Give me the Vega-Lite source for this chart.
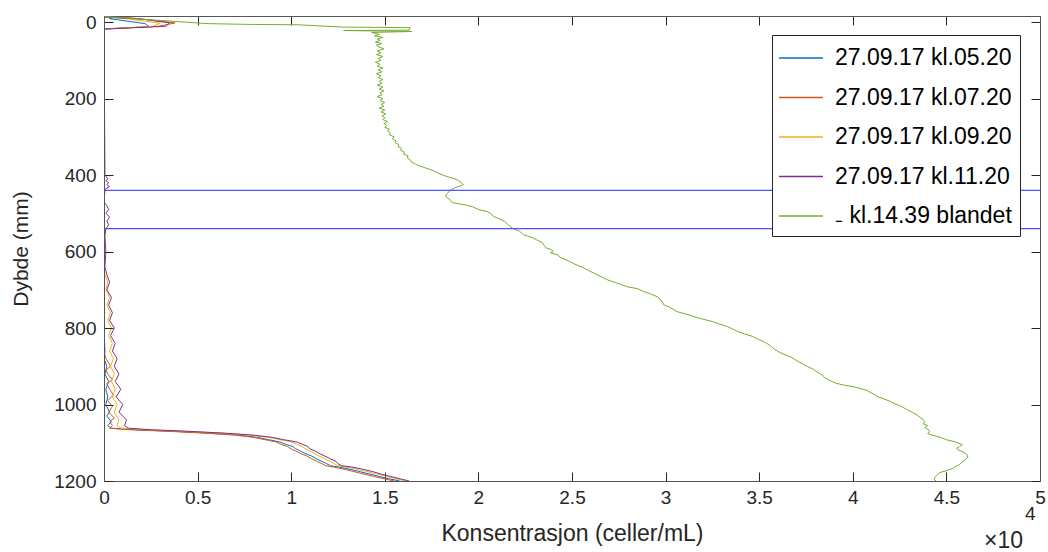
{
"$schema":"https://vega.github.io/schema/vega-lite/v6.json",
"width":936,"height":465,
"autosize":{"type":"none"},
"padding":{"left":104,"top":16,"right":8,"bottom":71},
"background":"white",
"config":{"view":{"stroke":null},"font":"Liberation Sans"},
"datasets":{
"profiles":[
{"s":"27.09.17 kl.05.20","d":-15,"v":0},{"s":"27.09.17 kl.05.20","d":-13,"v":600},{"s":"27.09.17 kl.05.20","d":-9,"v":300},{"s":"27.09.17 kl.05.20","d":4,"v":2200},{"s":"27.09.17 kl.05.20","d":12,"v":2400},{"s":"27.09.17 kl.05.20","d":18,"v":50},{"s":"27.09.17 kl.05.20","d":25,"v":0},{"s":"27.09.17 kl.05.20","d":400,"v":0},{"s":"27.09.17 kl.05.20","d":800,"v":0},{"s":"27.09.17 kl.05.20","d":860,"v":50},{"s":"27.09.17 kl.05.20","d":880,"v":0},{"s":"27.09.17 kl.05.20","d":900,"v":150},{"s":"27.09.17 kl.05.20","d":920,"v":50},{"s":"27.09.17 kl.05.20","d":940,"v":250},{"s":"27.09.17 kl.05.20","d":960,"v":100},{"s":"27.09.17 kl.05.20","d":980,"v":200},{"s":"27.09.17 kl.05.20","d":1000,"v":100},{"s":"27.09.17 kl.05.20","d":1020,"v":300},{"s":"27.09.17 kl.05.20","d":1030,"v":150},{"s":"27.09.17 kl.05.20","d":1045,"v":400},{"s":"27.09.17 kl.05.20","d":1055,"v":200},{"s":"27.09.17 kl.05.20","d":1062,"v":400},{"s":"27.09.17 kl.05.20","d":1066,"v":1700},{"s":"27.09.17 kl.05.20","d":1070,"v":3700},{"s":"27.09.17 kl.05.20","d":1075,"v":5700},{"s":"27.09.17 kl.05.20","d":1080,"v":7200},{"s":"27.09.17 kl.05.20","d":1086,"v":8200},{"s":"27.09.17 kl.05.20","d":1092,"v":8800},{"s":"27.09.17 kl.05.20","d":1098,"v":9400},{"s":"27.09.17 kl.05.20","d":1104,"v":9700},{"s":"27.09.17 kl.05.20","d":1110,"v":10100},{"s":"27.09.17 kl.05.20","d":1116,"v":10250},{"s":"27.09.17 kl.05.20","d":1122,"v":10500},{"s":"27.09.17 kl.05.20","d":1128,"v":10750},{"s":"27.09.17 kl.05.20","d":1135,"v":11100},{"s":"27.09.17 kl.05.20","d":1142,"v":11350},{"s":"27.09.17 kl.05.20","d":1149,"v":11650},{"s":"27.09.17 kl.05.20","d":1155,"v":11900},{"s":"27.09.17 kl.05.20","d":1160,"v":12100},{"s":"27.09.17 kl.05.20","d":1164,"v":12600},{"s":"27.09.17 kl.05.20","d":1170,"v":13200},{"s":"27.09.17 kl.05.20","d":1176,"v":13700},{"s":"27.09.17 kl.05.20","d":1182,"v":14200},{"s":"27.09.17 kl.05.20","d":1188,"v":14700},{"s":"27.09.17 kl.05.20","d":1194,"v":15200},{"s":"27.09.17 kl.05.20","d":1200,"v":15800},
{"s":"27.09.17 kl.07.20","d":-14,"v":0},{"s":"27.09.17 kl.07.20","d":-11,"v":1500},{"s":"27.09.17 kl.07.20","d":2,"v":3800},{"s":"27.09.17 kl.07.20","d":11,"v":2900},{"s":"27.09.17 kl.07.20","d":18,"v":0},{"s":"27.09.17 kl.07.20","d":400,"v":0},{"s":"27.09.17 kl.07.20","d":860,"v":0},{"s":"27.09.17 kl.07.20","d":880,"v":100},{"s":"27.09.17 kl.07.20","d":900,"v":350},{"s":"27.09.17 kl.07.20","d":910,"v":100},{"s":"27.09.17 kl.07.20","d":920,"v":200},{"s":"27.09.17 kl.07.20","d":935,"v":450},{"s":"27.09.17 kl.07.20","d":945,"v":150},{"s":"27.09.17 kl.07.20","d":960,"v":300},{"s":"27.09.17 kl.07.20","d":975,"v":500},{"s":"27.09.17 kl.07.20","d":990,"v":200},{"s":"27.09.17 kl.07.20","d":1005,"v":450},{"s":"27.09.17 kl.07.20","d":1020,"v":250},{"s":"27.09.17 kl.07.20","d":1035,"v":550},{"s":"27.09.17 kl.07.20","d":1045,"v":300},{"s":"27.09.17 kl.07.20","d":1055,"v":450},{"s":"27.09.17 kl.07.20","d":1062,"v":300},{"s":"27.09.17 kl.07.20","d":1066,"v":1400},{"s":"27.09.17 kl.07.20","d":1070,"v":3400},{"s":"27.09.17 kl.07.20","d":1075,"v":5400},{"s":"27.09.17 kl.07.20","d":1080,"v":7000},{"s":"27.09.17 kl.07.20","d":1086,"v":8000},{"s":"27.09.17 kl.07.20","d":1092,"v":8600},{"s":"27.09.17 kl.07.20","d":1098,"v":9200},{"s":"27.09.17 kl.07.20","d":1104,"v":9450},{"s":"27.09.17 kl.07.20","d":1110,"v":9800},{"s":"27.09.17 kl.07.20","d":1116,"v":10000},{"s":"27.09.17 kl.07.20","d":1122,"v":10250},{"s":"27.09.17 kl.07.20","d":1128,"v":10500},{"s":"27.09.17 kl.07.20","d":1135,"v":10850},{"s":"27.09.17 kl.07.20","d":1142,"v":11100},{"s":"27.09.17 kl.07.20","d":1149,"v":11400},{"s":"27.09.17 kl.07.20","d":1155,"v":11650},{"s":"27.09.17 kl.07.20","d":1160,"v":11850},{"s":"27.09.17 kl.07.20","d":1164,"v":12300},{"s":"27.09.17 kl.07.20","d":1170,"v":12900},{"s":"27.09.17 kl.07.20","d":1176,"v":13400},{"s":"27.09.17 kl.07.20","d":1182,"v":13900},{"s":"27.09.17 kl.07.20","d":1188,"v":14400},{"s":"27.09.17 kl.07.20","d":1194,"v":14950},{"s":"27.09.17 kl.07.20","d":1200,"v":15500},
{"s":"27.09.17 kl.09.20","d":-14,"v":0},{"s":"27.09.17 kl.09.20","d":-10,"v":1000},{"s":"27.09.17 kl.09.20","d":3,"v":3000},{"s":"27.09.17 kl.09.20","d":11,"v":2600},{"s":"27.09.17 kl.09.20","d":18,"v":0},{"s":"27.09.17 kl.09.20","d":400,"v":0},{"s":"27.09.17 kl.09.20","d":640,"v":0},{"s":"27.09.17 kl.09.20","d":660,"v":50},{"s":"27.09.17 kl.09.20","d":680,"v":200},{"s":"27.09.17 kl.09.20","d":700,"v":100},{"s":"27.09.17 kl.09.20","d":720,"v":300},{"s":"27.09.17 kl.09.20","d":740,"v":150},{"s":"27.09.17 kl.09.20","d":760,"v":350},{"s":"27.09.17 kl.09.20","d":780,"v":200},{"s":"27.09.17 kl.09.20","d":800,"v":400},{"s":"27.09.17 kl.09.20","d":820,"v":250},{"s":"27.09.17 kl.09.20","d":840,"v":450},{"s":"27.09.17 kl.09.20","d":860,"v":300},{"s":"27.09.17 kl.09.20","d":880,"v":500},{"s":"27.09.17 kl.09.20","d":900,"v":350},{"s":"27.09.17 kl.09.20","d":920,"v":550},{"s":"27.09.17 kl.09.20","d":940,"v":400},{"s":"27.09.17 kl.09.20","d":960,"v":600},{"s":"27.09.17 kl.09.20","d":980,"v":450},{"s":"27.09.17 kl.09.20","d":1000,"v":700},{"s":"27.09.17 kl.09.20","d":1020,"v":550},{"s":"27.09.17 kl.09.20","d":1040,"v":800},{"s":"27.09.17 kl.09.20","d":1055,"v":700},{"s":"27.09.17 kl.09.20","d":1062,"v":900},{"s":"27.09.17 kl.09.20","d":1066,"v":2300},{"s":"27.09.17 kl.09.20","d":1070,"v":4300},{"s":"27.09.17 kl.09.20","d":1075,"v":6300},{"s":"27.09.17 kl.09.20","d":1080,"v":7800},{"s":"27.09.17 kl.09.20","d":1086,"v":8800},{"s":"27.09.17 kl.09.20","d":1092,"v":9400},{"s":"27.09.17 kl.09.20","d":1098,"v":10000},{"s":"27.09.17 kl.09.20","d":1104,"v":10300},{"s":"27.09.17 kl.09.20","d":1110,"v":10600},{"s":"27.09.17 kl.09.20","d":1116,"v":10750},{"s":"27.09.17 kl.09.20","d":1122,"v":11000},{"s":"27.09.17 kl.09.20","d":1128,"v":11250},{"s":"27.09.17 kl.09.20","d":1135,"v":11500},{"s":"27.09.17 kl.09.20","d":1142,"v":11800},{"s":"27.09.17 kl.09.20","d":1149,"v":12100},{"s":"27.09.17 kl.09.20","d":1155,"v":12300},{"s":"27.09.17 kl.09.20","d":1160,"v":12500},{"s":"27.09.17 kl.09.20","d":1164,"v":13000},{"s":"27.09.17 kl.09.20","d":1170,"v":13600},{"s":"27.09.17 kl.09.20","d":1176,"v":14100},{"s":"27.09.17 kl.09.20","d":1182,"v":14600},{"s":"27.09.17 kl.09.20","d":1188,"v":15100},{"s":"27.09.17 kl.09.20","d":1194,"v":15600},{"s":"27.09.17 kl.09.20","d":1200,"v":16100},
{"s":"27.09.17 kl.11.20","d":-13,"v":0},{"s":"27.09.17 kl.11.20","d":-8,"v":2000},{"s":"27.09.17 kl.11.20","d":2,"v":3500},{"s":"27.09.17 kl.11.20","d":11,"v":3300},{"s":"27.09.17 kl.11.20","d":18,"v":0},{"s":"27.09.17 kl.11.20","d":400,"v":50},{"s":"27.09.17 kl.11.20","d":410,"v":200},{"s":"27.09.17 kl.11.20","d":415,"v":100},{"s":"27.09.17 kl.11.20","d":420,"v":250},{"s":"27.09.17 kl.11.20","d":425,"v":150},{"s":"27.09.17 kl.11.20","d":430,"v":300},{"s":"27.09.17 kl.11.20","d":435,"v":100},{"s":"27.09.17 kl.11.20","d":440,"v":50},{"s":"27.09.17 kl.11.20","d":470,"v":0},{"s":"27.09.17 kl.11.20","d":480,"v":150},{"s":"27.09.17 kl.11.20","d":490,"v":250},{"s":"27.09.17 kl.11.20","d":500,"v":100},{"s":"27.09.17 kl.11.20","d":510,"v":300},{"s":"27.09.17 kl.11.20","d":520,"v":150},{"s":"27.09.17 kl.11.20","d":530,"v":250},{"s":"27.09.17 kl.11.20","d":540,"v":100},{"s":"27.09.17 kl.11.20","d":560,"v":50},{"s":"27.09.17 kl.11.20","d":600,"v":100},{"s":"27.09.17 kl.11.20","d":640,"v":50},{"s":"27.09.17 kl.11.20","d":660,"v":150},{"s":"27.09.17 kl.11.20","d":680,"v":300},{"s":"27.09.17 kl.11.20","d":700,"v":150},{"s":"27.09.17 kl.11.20","d":720,"v":400},{"s":"27.09.17 kl.11.20","d":740,"v":250},{"s":"27.09.17 kl.11.20","d":760,"v":450},{"s":"27.09.17 kl.11.20","d":780,"v":300},{"s":"27.09.17 kl.11.20","d":800,"v":550},{"s":"27.09.17 kl.11.20","d":820,"v":350},{"s":"27.09.17 kl.11.20","d":840,"v":600},{"s":"27.09.17 kl.11.20","d":860,"v":450},{"s":"27.09.17 kl.11.20","d":880,"v":700},{"s":"27.09.17 kl.11.20","d":900,"v":550},{"s":"27.09.17 kl.11.20","d":920,"v":800},{"s":"27.09.17 kl.11.20","d":940,"v":600},{"s":"27.09.17 kl.11.20","d":960,"v":900},{"s":"27.09.17 kl.11.20","d":980,"v":650},{"s":"27.09.17 kl.11.20","d":1000,"v":1000},{"s":"27.09.17 kl.11.20","d":1020,"v":800},{"s":"27.09.17 kl.11.20","d":1040,"v":1200},{"s":"27.09.17 kl.11.20","d":1055,"v":1100},{"s":"27.09.17 kl.11.20","d":1062,"v":1300},{"s":"27.09.17 kl.11.20","d":1066,"v":2500},{"s":"27.09.17 kl.11.20","d":1070,"v":4500},{"s":"27.09.17 kl.11.20","d":1075,"v":6500},{"s":"27.09.17 kl.11.20","d":1080,"v":8000},{"s":"27.09.17 kl.11.20","d":1086,"v":9000},{"s":"27.09.17 kl.11.20","d":1092,"v":9600},{"s":"27.09.17 kl.11.20","d":1098,"v":10300},{"s":"27.09.17 kl.11.20","d":1104,"v":10600},{"s":"27.09.17 kl.11.20","d":1110,"v":10900},{"s":"27.09.17 kl.11.20","d":1116,"v":11000},{"s":"27.09.17 kl.11.20","d":1122,"v":11300},{"s":"27.09.17 kl.11.20","d":1128,"v":11500},{"s":"27.09.17 kl.11.20","d":1135,"v":11800},{"s":"27.09.17 kl.11.20","d":1142,"v":12100},{"s":"27.09.17 kl.11.20","d":1149,"v":12400},{"s":"27.09.17 kl.11.20","d":1155,"v":12500},{"s":"27.09.17 kl.11.20","d":1160,"v":12700},{"s":"27.09.17 kl.11.20","d":1164,"v":13300},{"s":"27.09.17 kl.11.20","d":1170,"v":13900},{"s":"27.09.17 kl.11.20","d":1176,"v":14400},{"s":"27.09.17 kl.11.20","d":1182,"v":14800},{"s":"27.09.17 kl.11.20","d":1188,"v":15300},{"s":"27.09.17 kl.11.20","d":1194,"v":15800},{"s":"27.09.17 kl.11.20","d":1200,"v":16300},
{"s":"₋ kl.14.39 blandet","d":-14,"v":50},{"s":"₋ kl.14.39 blandet","d":4,"v":5560},{"s":"₋ kl.14.39 blandet","d":6,"v":7800},{"s":"₋ kl.14.39 blandet","d":7,"v":10360},{"s":"₋ kl.14.39 blandet","d":13,"v":12770},{"s":"₋ kl.14.39 blandet","d":14.5,"v":16350},{"s":"₋ kl.14.39 blandet","d":21,"v":16300},{"s":"₋ kl.14.39 blandet","d":22,"v":12800},{"s":"₋ kl.14.39 blandet","d":24.5,"v":16450},
{"s":"₋ kl.14.39 blandet","d":27,"v":14300},{"s":"₋ kl.14.39 blandet","d":32,"v":14700},{"s":"₋ kl.14.39 blandet","d":36,"v":14450},{"s":"₋ kl.14.39 blandet","d":40,"v":14900},{"s":"₋ kl.14.39 blandet","d":44,"v":14600},{"s":"₋ kl.14.39 blandet","d":48,"v":14750},{"s":"₋ kl.14.39 blandet","d":52,"v":14500},{"s":"₋ kl.14.39 blandet","d":56,"v":14850},{"s":"₋ kl.14.39 blandet","d":60,"v":14550},{"s":"₋ kl.14.39 blandet","d":65,"v":14700},{"s":"₋ kl.14.39 blandet","d":70,"v":14950},{"s":"₋ kl.14.39 blandet","d":75,"v":14600},{"s":"₋ kl.14.39 blandet","d":80,"v":14800},{"s":"₋ kl.14.39 blandet","d":85,"v":14550},{"s":"₋ kl.14.39 blandet","d":90,"v":14900},{"s":"₋ kl.14.39 blandet","d":95,"v":14650},{"s":"₋ kl.14.39 blandet","d":100,"v":14800},{"s":"₋ kl.14.39 blandet","d":105,"v":14500},{"s":"₋ kl.14.39 blandet","d":110,"v":14750},{"s":"₋ kl.14.39 blandet","d":115,"v":14600},{"s":"₋ kl.14.39 blandet","d":120,"v":14900},{"s":"₋ kl.14.39 blandet","d":125,"v":14650},{"s":"₋ kl.14.39 blandet","d":130,"v":14850},{"s":"₋ kl.14.39 blandet","d":135,"v":14550},{"s":"₋ kl.14.39 blandet","d":140,"v":14800},{"s":"₋ kl.14.39 blandet","d":145,"v":14650},{"s":"₋ kl.14.39 blandet","d":150,"v":14900},{"s":"₋ kl.14.39 blandet","d":155,"v":14700},{"s":"₋ kl.14.39 blandet","d":160,"v":14850},{"s":"₋ kl.14.39 blandet","d":165,"v":14600},{"s":"₋ kl.14.39 blandet","d":170,"v":14900},{"s":"₋ kl.14.39 blandet","d":175,"v":14700},{"s":"₋ kl.14.39 blandet","d":180,"v":14950},{"s":"₋ kl.14.39 blandet","d":185,"v":14750},{"s":"₋ kl.14.39 blandet","d":190,"v":14850},{"s":"₋ kl.14.39 blandet","d":195,"v":14600},{"s":"₋ kl.14.39 blandet","d":200,"v":14900},{"s":"₋ kl.14.39 blandet","d":205,"v":14750},{"s":"₋ kl.14.39 blandet","d":210,"v":15000},{"s":"₋ kl.14.39 blandet","d":215,"v":14800},{"s":"₋ kl.14.39 blandet","d":220,"v":14950},{"s":"₋ kl.14.39 blandet","d":225,"v":14700},{"s":"₋ kl.14.39 blandet","d":230,"v":15000},{"s":"₋ kl.14.39 blandet","d":235,"v":14800},{"s":"₋ kl.14.39 blandet","d":240,"v":15050},{"s":"₋ kl.14.39 blandet","d":245,"v":14850},{"s":"₋ kl.14.39 blandet","d":250,"v":15000},{"s":"₋ kl.14.39 blandet","d":255,"v":14900},{"s":"₋ kl.14.39 blandet","d":260,"v":15150},{"s":"₋ kl.14.39 blandet","d":265,"v":14950},{"s":"₋ kl.14.39 blandet","d":270,"v":15100},{"s":"₋ kl.14.39 blandet","d":275,"v":15000},{"s":"₋ kl.14.39 blandet","d":280,"v":15250},{"s":"₋ kl.14.39 blandet","d":285,"v":15150},{"s":"₋ kl.14.39 blandet","d":290,"v":15300},{"s":"₋ kl.14.39 blandet","d":295,"v":15250},{"s":"₋ kl.14.39 blandet","d":300,"v":15500},{"s":"₋ kl.14.39 blandet","d":305,"v":15400},{"s":"₋ kl.14.39 blandet","d":310,"v":15600},{"s":"₋ kl.14.39 blandet","d":315,"v":15550},{"s":"₋ kl.14.39 blandet","d":320,"v":15750},{"s":"₋ kl.14.39 blandet","d":325,"v":15700},{"s":"₋ kl.14.39 blandet","d":330,"v":15900},{"s":"₋ kl.14.39 blandet","d":335,"v":15850},{"s":"₋ kl.14.39 blandet","d":340,"v":16050},{"s":"₋ kl.14.39 blandet","d":345,"v":16000},{"s":"₋ kl.14.39 blandet","d":350,"v":16250},{"s":"₋ kl.14.39 blandet","d":355,"v":16200},{"s":"₋ kl.14.39 blandet","d":360,"v":16350},{"s":"₋ kl.14.39 blandet","d":365,"v":16400},{"s":"₋ kl.14.39 blandet","d":370,"v":16600},{"s":"₋ kl.14.39 blandet","d":375,"v":16800},{"s":"₋ kl.14.39 blandet","d":380,"v":17100},{"s":"₋ kl.14.39 blandet","d":385,"v":17400},{"s":"₋ kl.14.39 blandet","d":390,"v":17650},{"s":"₋ kl.14.39 blandet","d":395,"v":17850},{"s":"₋ kl.14.39 blandet","d":400,"v":18100},{"s":"₋ kl.14.39 blandet","d":405,"v":18400},{"s":"₋ kl.14.39 blandet","d":410,"v":18750},{"s":"₋ kl.14.39 blandet","d":415,"v":18950},{"s":"₋ kl.14.39 blandet","d":420,"v":19100},{"s":"₋ kl.14.39 blandet","d":425,"v":19200},{"s":"₋ kl.14.39 blandet","d":428,"v":19050},{"s":"₋ kl.14.39 blandet","d":432,"v":18800},{"s":"₋ kl.14.39 blandet","d":438,"v":18550},{"s":"₋ kl.14.39 blandet","d":445,"v":18400},{"s":"₋ kl.14.39 blandet","d":452,"v":18250},{"s":"₋ kl.14.39 blandet","d":458,"v":18300},{"s":"₋ kl.14.39 blandet","d":465,"v":18500},{"s":"₋ kl.14.39 blandet","d":472,"v":18600},{"s":"₋ kl.14.39 blandet","d":478,"v":19300},{"s":"₋ kl.14.39 blandet","d":483,"v":19700},{"s":"₋ kl.14.39 blandet","d":490,"v":20000},{"s":"₋ kl.14.39 blandet","d":496,"v":20500},{"s":"₋ kl.14.39 blandet","d":502,"v":20700},{"s":"₋ kl.14.39 blandet","d":508,"v":20800},{"s":"₋ kl.14.39 blandet","d":514,"v":21100},{"s":"₋ kl.14.39 blandet","d":521,"v":21400},{"s":"₋ kl.14.39 blandet","d":528,"v":21550},{"s":"₋ kl.14.39 blandet","d":535,"v":21700},{"s":"₋ kl.14.39 blandet","d":540,"v":21850},{"s":"₋ kl.14.39 blandet","d":547,"v":22200},{"s":"₋ kl.14.39 blandet","d":556,"v":22400},{"s":"₋ kl.14.39 blandet","d":562,"v":22800},{"s":"₋ kl.14.39 blandet","d":569,"v":23100},{"s":"₋ kl.14.39 blandet","d":576,"v":23400},{"s":"₋ kl.14.39 blandet","d":583,"v":23500},{"s":"₋ kl.14.39 blandet","d":590,"v":23600},{"s":"₋ kl.14.39 blandet","d":595,"v":23900},{"s":"₋ kl.14.39 blandet","d":600,"v":24000},{"s":"₋ kl.14.39 blandet","d":603,"v":23850},{"s":"₋ kl.14.39 blandet","d":608,"v":24200},{"s":"₋ kl.14.39 blandet","d":616,"v":24400},{"s":"₋ kl.14.39 blandet","d":624,"v":24800},{"s":"₋ kl.14.39 blandet","d":632,"v":25100},{"s":"₋ kl.14.39 blandet","d":642,"v":25600},{"s":"₋ kl.14.39 blandet","d":650,"v":25900},{"s":"₋ kl.14.39 blandet","d":657,"v":26200},{"s":"₋ kl.14.39 blandet","d":668,"v":26650},{"s":"₋ kl.14.39 blandet","d":674,"v":26900},{"s":"₋ kl.14.39 blandet","d":679,"v":27200},{"s":"₋ kl.14.39 blandet","d":686,"v":27600},{"s":"₋ kl.14.39 blandet","d":692,"v":27950},{"s":"₋ kl.14.39 blandet","d":697,"v":28500},{"s":"₋ kl.14.39 blandet","d":704,"v":28800},{"s":"₋ kl.14.39 blandet","d":711,"v":29200},{"s":"₋ kl.14.39 blandet","d":718,"v":29550},{"s":"₋ kl.14.39 blandet","d":724,"v":29700},{"s":"₋ kl.14.39 blandet","d":730,"v":29800},{"s":"₋ kl.14.39 blandet","d":739,"v":29900},{"s":"₋ kl.14.39 blandet","d":745,"v":30200},{"s":"₋ kl.14.39 blandet","d":751,"v":30400},{"s":"₋ kl.14.39 blandet","d":757,"v":30600},{"s":"₋ kl.14.39 blandet","d":765,"v":31200},{"s":"₋ kl.14.39 blandet","d":773,"v":31700},{"s":"₋ kl.14.39 blandet","d":778,"v":32100},{"s":"₋ kl.14.39 blandet","d":783,"v":32500},{"s":"₋ kl.14.39 blandet","d":790,"v":32900},{"s":"₋ kl.14.39 blandet","d":796,"v":33300},{"s":"₋ kl.14.39 blandet","d":803,"v":33600},{"s":"₋ kl.14.39 blandet","d":809,"v":33850},{"s":"₋ kl.14.39 blandet","d":815,"v":34200},{"s":"₋ kl.14.39 blandet","d":822,"v":34650},{"s":"₋ kl.14.39 blandet","d":828,"v":34900},{"s":"₋ kl.14.39 blandet","d":835,"v":35200},{"s":"₋ kl.14.39 blandet","d":840,"v":35400},{"s":"₋ kl.14.39 blandet","d":846,"v":35600},{"s":"₋ kl.14.39 blandet","d":853,"v":35750},{"s":"₋ kl.14.39 blandet","d":858,"v":35900},{"s":"₋ kl.14.39 blandet","d":864,"v":36100},{"s":"₋ kl.14.39 blandet","d":870,"v":36400},{"s":"₋ kl.14.39 blandet","d":876,"v":36700},{"s":"₋ kl.14.39 blandet","d":882,"v":36900},{"s":"₋ kl.14.39 blandet","d":888,"v":37100},{"s":"₋ kl.14.39 blandet","d":895,"v":37350},{"s":"₋ kl.14.39 blandet","d":901,"v":37600},{"s":"₋ kl.14.39 blandet","d":908,"v":37900},{"s":"₋ kl.14.39 blandet","d":912,"v":38000},{"s":"₋ kl.14.39 blandet","d":918,"v":38200},{"s":"₋ kl.14.39 blandet","d":924,"v":38400},{"s":"₋ kl.14.39 blandet","d":930,"v":38500},{"s":"₋ kl.14.39 blandet","d":935,"v":38700},{"s":"₋ kl.14.39 blandet","d":940,"v":38900},{"s":"₋ kl.14.39 blandet","d":945,"v":39150},{"s":"₋ kl.14.39 blandet","d":950,"v":39600},{"s":"₋ kl.14.39 blandet","d":953,"v":40000},{"s":"₋ kl.14.39 blandet","d":958,"v":40400},{"s":"₋ kl.14.39 blandet","d":963,"v":40750},{"s":"₋ kl.14.39 blandet","d":970,"v":41000},{"s":"₋ kl.14.39 blandet","d":975,"v":41200},{"s":"₋ kl.14.39 blandet","d":979,"v":41300},{"s":"₋ kl.14.39 blandet","d":985,"v":41650},{"s":"₋ kl.14.39 blandet","d":992,"v":42000},{"s":"₋ kl.14.39 blandet","d":997,"v":42200},{"s":"₋ kl.14.39 blandet","d":1002,"v":42450},{"s":"₋ kl.14.39 blandet","d":1008,"v":42700},{"s":"₋ kl.14.39 blandet","d":1012,"v":42850},{"s":"₋ kl.14.39 blandet","d":1017,"v":43050},{"s":"₋ kl.14.39 blandet","d":1021,"v":43200},{"s":"₋ kl.14.39 blandet","d":1028,"v":43450},{"s":"₋ kl.14.39 blandet","d":1034,"v":43600},{"s":"₋ kl.14.39 blandet","d":1039,"v":43750},{"s":"₋ kl.14.39 blandet","d":1045,"v":43850},{"s":"₋ kl.14.39 blandet","d":1050,"v":43750},{"s":"₋ kl.14.39 blandet","d":1055,"v":44000},{"s":"₋ kl.14.39 blandet","d":1060,"v":43850},{"s":"₋ kl.14.39 blandet","d":1066,"v":44050},{"s":"₋ kl.14.39 blandet","d":1071,"v":44100},{"s":"₋ kl.14.39 blandet","d":1076,"v":44000},{"s":"₋ kl.14.39 blandet","d":1081,"v":44300},{"s":"₋ kl.14.39 blandet","d":1086,"v":44700},{"s":"₋ kl.14.39 blandet","d":1092,"v":45000},{"s":"₋ kl.14.39 blandet","d":1098,"v":45500},{"s":"₋ kl.14.39 blandet","d":1105,"v":45850},{"s":"₋ kl.14.39 blandet","d":1110,"v":45700},{"s":"₋ kl.14.39 blandet","d":1114,"v":45550},{"s":"₋ kl.14.39 blandet","d":1118,"v":45600},{"s":"₋ kl.14.39 blandet","d":1124,"v":45900},{"s":"₋ kl.14.39 blandet","d":1131,"v":46100},{"s":"₋ kl.14.39 blandet","d":1138,"v":46150},{"s":"₋ kl.14.39 blandet","d":1145,"v":46000},{"s":"₋ kl.14.39 blandet","d":1150,"v":45850},{"s":"₋ kl.14.39 blandet","d":1157,"v":45700},{"s":"₋ kl.14.39 blandet","d":1162,"v":45500},{"s":"₋ kl.14.39 blandet","d":1168,"v":45300},{"s":"₋ kl.14.39 blandet","d":1173,"v":45000},{"s":"₋ kl.14.39 blandet","d":1178,"v":44650},{"s":"₋ kl.14.39 blandet","d":1185,"v":44500},{"s":"₋ kl.14.39 blandet","d":1190,"v":44400},{"s":"₋ kl.14.39 blandet","d":1196,"v":44350},{"s":"₋ kl.14.39 blandet","d":1200,"v":44450}
],
"marks":[{"depth":440},{"depth":540}]
},
"resolve":{"axis":{"x":"independent","y":"independent"}},
"layer":[
{
"data":{"name":"profiles"},
"mark":{"type":"line","strokeWidth":1,"clip":true},
"encoding":{
"x":{"field":"v","type":"quantitative","scale":{"domain":[0,50000],"nice":false,"zero":false},
"axis":{"orient":"bottom","values":[0,5000,10000,15000,20000,25000,30000,35000,40000,45000,50000],"labelExpr":"format(datum.value/10000,'~g')","title":"Konsentrasjon (celler/mL)","grid":false,"tickSize":-9,"labelPadding":16,"tickColor":"#262626","domainColor":"#555555","labelColor":"#262626","labelFontSize":19,"labelFont":"Liberation Sans","titleFont":"Liberation Sans","titleFontSize":23,"titleFontWeight":"normal","titleColor":"#262626","titlePadding":15,"labelFlush":false}},
"y":{"field":"d","type":"quantitative","scale":{"domain":[-16,1200],"reverse":true,"nice":false,"zero":false},
"axis":{"orient":"left","zindex":1,"values":[0,200,400,600,800,1000,1200],"format":"d","title":"Dybde (mm)","grid":false,"tickSize":-9,"labelPadding":17,"tickColor":"#262626","domainColor":"#555555","labelColor":"#262626","labelFontSize":19,"labelFont":"Liberation Sans","titleFont":"Liberation Sans","titleFontSize":21,"titleFontWeight":"normal","titleColor":"#262626","titlePadding":22,"labelFlush":false}},
"order":{"field":"d","type":"quantitative"},
"color":{"field":"s","type":"nominal",
"scale":{"domain":["27.09.17 kl.05.20","27.09.17 kl.07.20","27.09.17 kl.09.20","27.09.17 kl.11.20","₋ kl.14.39 blandet"],"range":["#0072BD","#D95319","#EDB120","#7E2F8E","#77AC30"]},
"legend":{"title":null,"orient":"none","legendX":668,"legendY":19,"fillColor":"white","strokeColor":"#262626","padding":8,"labelFontSize":23,"labelFont":"Liberation Sans","labelColor":"#000000","symbolType":"M-1.57,0H1.57","symbolSize":784,"symbolStrokeWidth":1.5,"symbolOffset":6,"labelOffset":19,"rowPadding":12.5,"labelLimit":400}}
}
},
{
"data":{"name":"marks"},
"mark":{"type":"rule","color":"#5050ff","strokeWidth":1.3},
"encoding":{
"y":{"field":"depth","type":"quantitative","scale":{"domain":[-16,1200],"reverse":true,"nice":false,"zero":false},
"axis":{"orient":"right","values":[0,200,400,600,800,1000,1200],"labels":false,"title":null,"grid":false,"tickSize":-9,"tickColor":"#262626","domainColor":"#555555"}},
"x":{"datum":0,"type":"quantitative","scale":{"domain":[0,50000],"nice":false,"zero":false},
"axis":{"orient":"top","values":[0,5000,10000,15000,20000,25000,30000,35000,40000,45000,50000],"labels":false,"title":null,"grid":false,"tickSize":-9,"tickColor":"#262626","domainColor":"#555555"}},
"x2":{"datum":50000}
}
},
{
"data":{"values":[{"t":"×10"}]},
"mark":{"type":"text","align":"right","baseline":"alphabetic","fontSize":23,"font":"Liberation Sans","color":"#262626","dx":-17,"dy":67},
"encoding":{
"x":{"datum":50000,"type":"quantitative","scale":{"domain":[0,50000],"nice":false,"zero":false},"axis":null},
"y":{"datum":1200,"type":"quantitative","scale":{"domain":[-16,1200],"reverse":true,"nice":false,"zero":false},"axis":null},
"text":{"field":"t"}
}
},
{
"data":{"values":[{"t":"4"}]},
"mark":{"type":"text","align":"left","baseline":"alphabetic","fontSize":19,"font":"Liberation Sans","color":"#262626","dx":-15,"dy":39},
"encoding":{
"x":{"datum":50000,"type":"quantitative","scale":{"domain":[0,50000],"nice":false,"zero":false},"axis":null},
"y":{"datum":1200,"type":"quantitative","scale":{"domain":[-16,1200],"reverse":true,"nice":false,"zero":false},"axis":null},
"text":{"field":"t"}
}
}
]
}
